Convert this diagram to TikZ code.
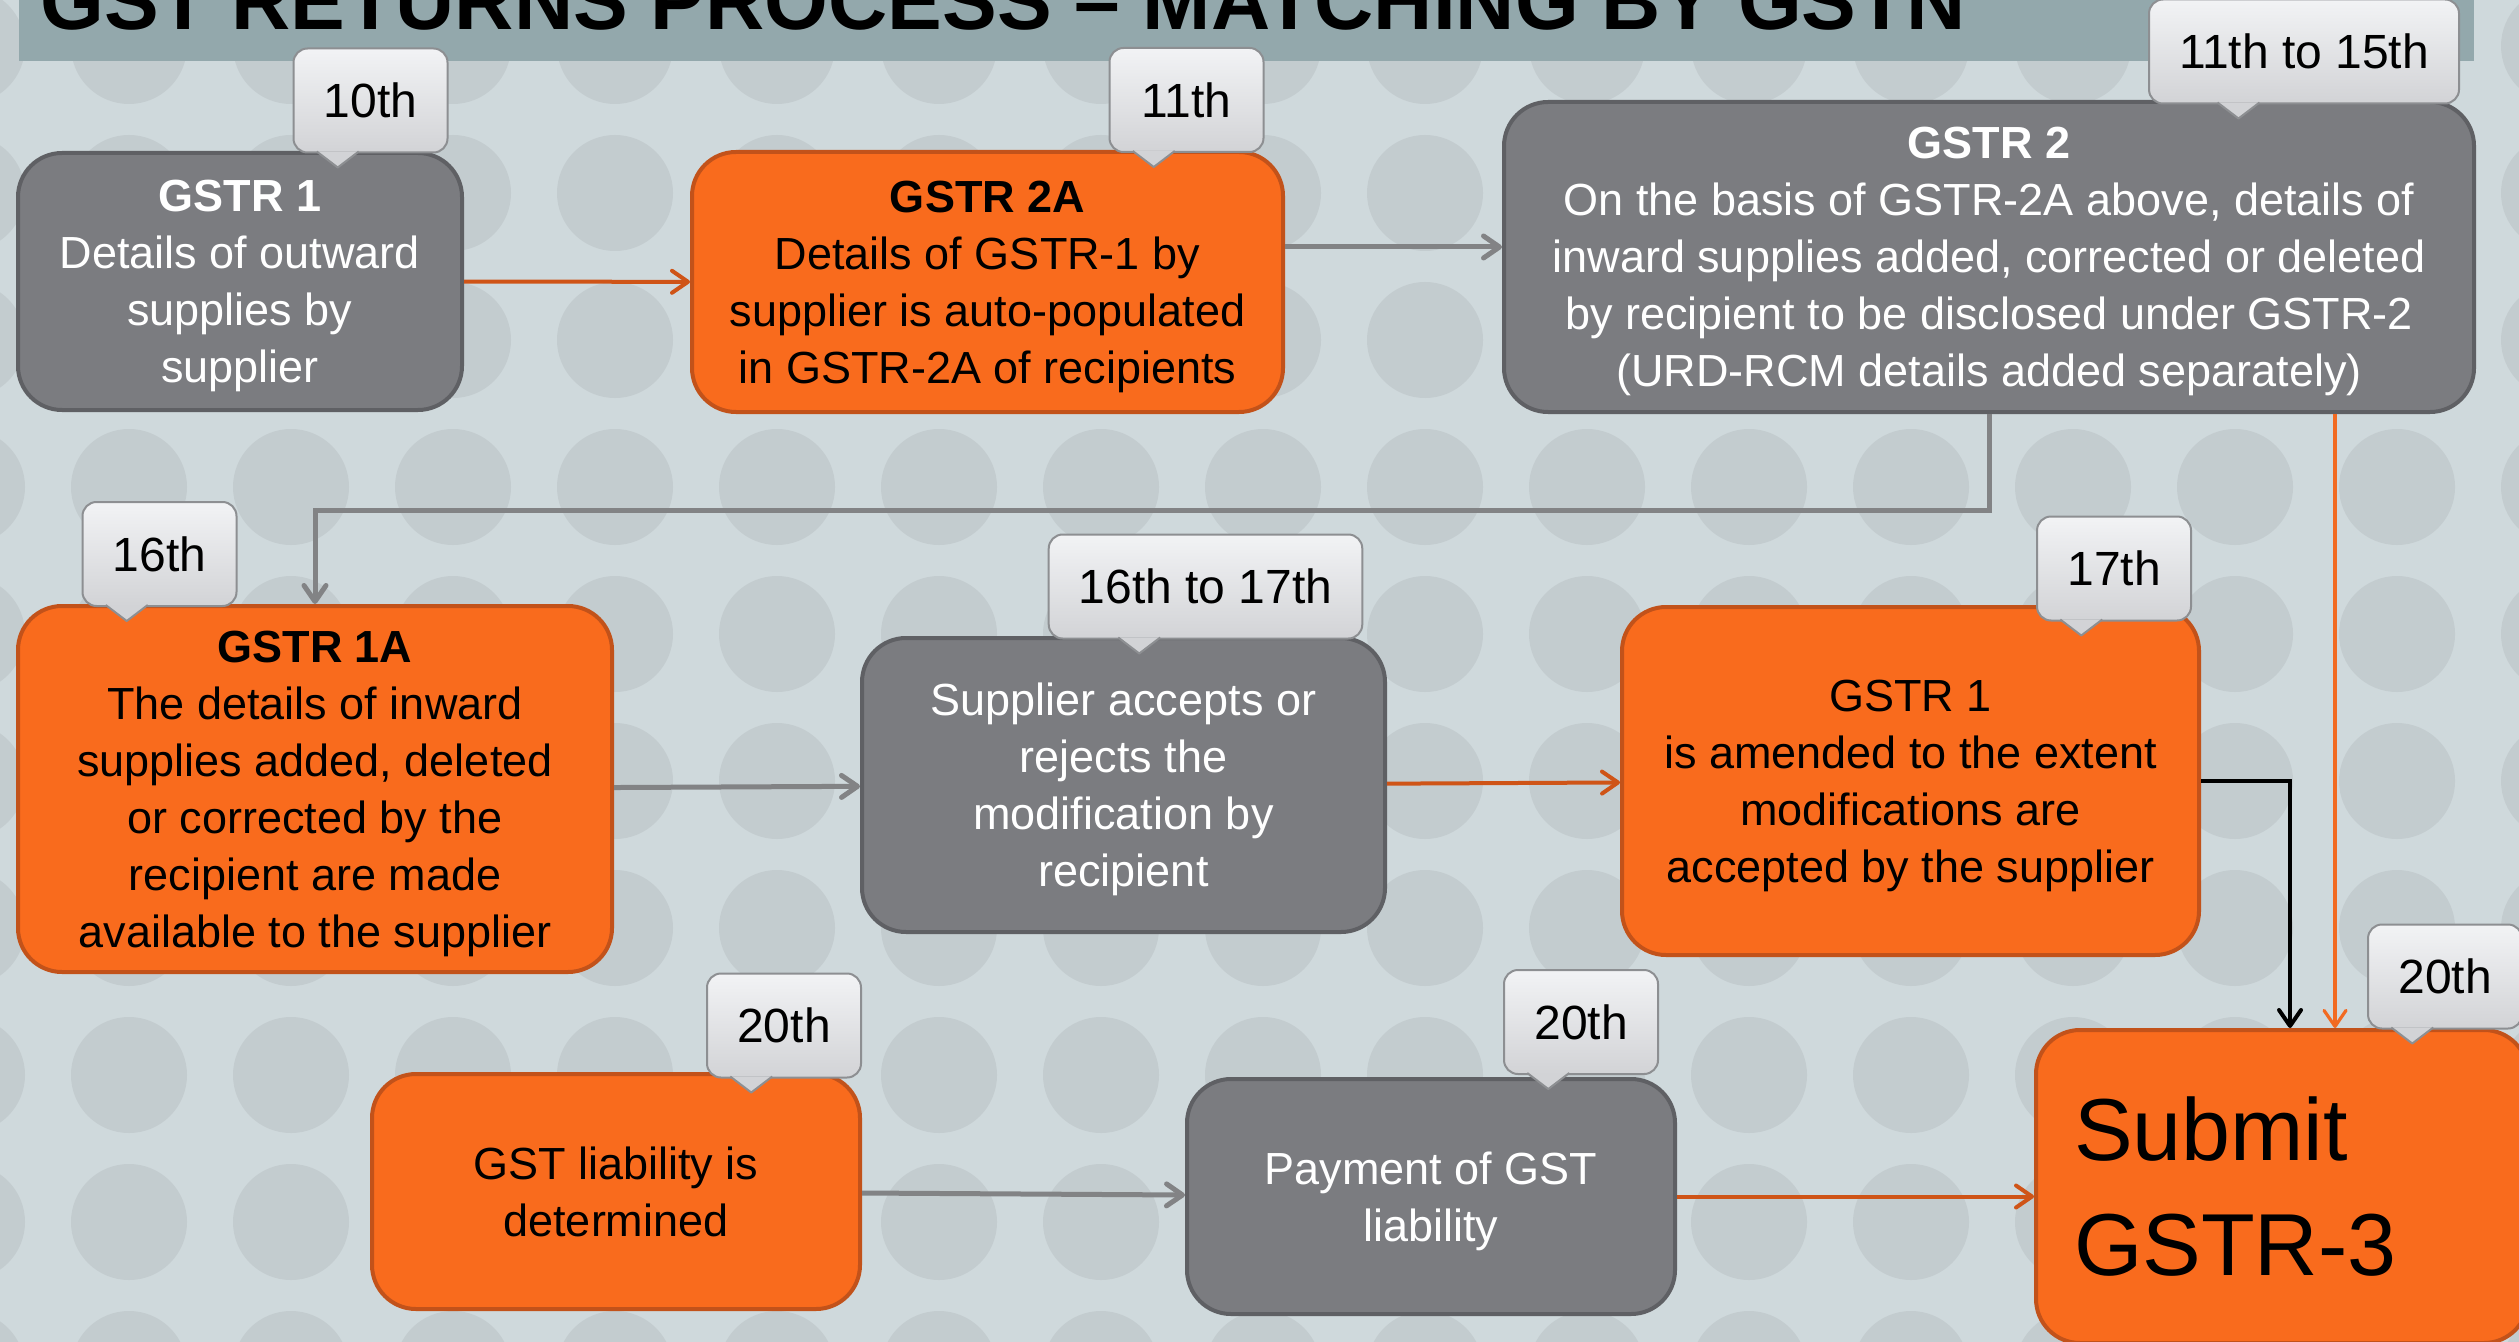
\documentclass[tikz,border=0pt]{standalone}
\usepackage{fontspec}
\setmainfont{Liberation Sans}
\usepackage{xcolor}
\usetikzlibrary{arrows.meta, calc}

\definecolor{bgpale}{HTML}{CFD9DC}
\definecolor{bgdot}{HTML}{C3CCCF}
\definecolor{barblue}{HTML}{93A8AC}
\definecolor{boxgrey}{HTML}{7B7C80}
\definecolor{boxgreyline}{HTML}{5F6064}
\definecolor{boxorange}{HTML}{F96B1D}
\definecolor{boxorangeline}{HTML}{C2521A}
\definecolor{linkgrey}{HTML}{828385}
\definecolor{linkorange}{HTML}{CF5417}
\definecolor{linkbright}{HTML}{F26A21}
\definecolor{tagtop}{HTML}{F2F3F5}
\definecolor{tagbot}{HTML}{D2D3D6}
\definecolor{tagedge}{HTML}{8D8F92}

\begin{document}
\begin{tikzpicture}[
    x=0.5pt, y=-0.5pt,
    stepbox/.style={draw, line width=2pt, rounded corners=22pt, align=center,
      text depth=0pt, font=\fontsize{22.5}{28.5}\selectfont},
    greybox/.style={stepbox, fill=boxgrey, draw=boxgreyline, text=white},
    orangebox/.style={stepbox, fill=boxorange, draw=boxorangeline, text=black},
    datetag/.style={draw=tagedge, line width=1pt, rounded corners=7pt,
      top color=tagtop, bottom color=tagbot, text=black,
      font=\fontsize{24}{28}\selectfont, inner xsep=15pt,
      minimum width=77pt, minimum height=52pt},
    flow/.style={line width=2.5pt, -{Straight Barb[length=8pt,width=11pt,round]}},
  ]
  \useasboundingbox (0,0) rectangle (2519,1342);
  \clip (0,0) rectangle (2519,1342);

  % dotted backdrop and heading strip
  \fill[bgpale] (0,0) rectangle (2519,1342);
  \foreach \i in {0,...,16}
    \foreach \j in {0,...,9}
      \fill[bgdot] (-33+162*\i, 46+147*\j) circle[radius=29pt];
  \fill[barblue] (19,-5) rectangle (2474,61);
  \node[anchor=base west, inner sep=0pt, font=\fontsize{41}{48}\bfseries] (title)
    at (40,30) {GST RETURNS PROCESS \textendash{} MATCHING BY GSTN};

  % returns
  \node[greybox, minimum width=222pt, minimum height=128.5pt] (g1) at (240,281.5)
    {\textbf{GSTR 1}\\Details of outward\\supplies by\\supplier};
  \node[orangebox, minimum width=295.5pt, minimum height=130pt] (g2a) at (987.5,282)
    {\textbf{GSTR 2A}\\Details of GSTR-1 by\\supplier is auto-populated\\in GSTR-2A of recipients};
  \node[greybox, minimum width=485pt, minimum height=155pt] (g2) at (1989,257)
    {\textbf{GSTR 2}\\On the basis of GSTR-2A above, details of\\inward supplies added, corrected or deleted\\by recipient to be disclosed under GSTR-2\\(URD-RCM details added separately)};
  \node[orangebox, minimum width=297pt, minimum height=183pt] (g1a) at (315,789)
    {\textbf{GSTR 1A}\\The details of inward\\supplies added, deleted\\or corrected by the\\recipient are made\\available to the supplier};
  \node[greybox, minimum width=261.5pt, minimum height=147pt] (acc) at (1123.5,785)
    {Supplier accepts or\\rejects the\\modification by\\recipient};
  \node[orangebox, minimum width=288.5pt, minimum height=174pt] (amend) at (1910.5,781)
    {GSTR 1\\is amended to the extent\\modifications are\\accepted by the supplier};
  \node[orangebox, minimum width=244pt, minimum height=117.5pt] (liab) at (616,1191.5)
    {GST liability is\\determined};
  \node[greybox, minimum width=244pt, minimum height=117.5pt] (pay) at (1431,1196.5)
    {Payment of GST\\liability};
  \node[orangebox, minimum width=246pt, minimum height=156.5pt, align=left,
    text width=208pt, text depth={}, font=\fontsize{44}{57.5}\selectfont] (sub)
    at (2282,1186.5) {Submit\\GSTR-3};

  % links
  \draw[flow, linkorange, line width=2pt] (g1) -- (g2a);
  \draw[flow, linkgrey] (g2a.east |- 0,247) -- (g2.west |- 0,247);
  \draw[flow, linkgrey] (g2.south) -- ++(0,96) -| (g1a.north);
  \draw[flow, linkbright, line width=1.6pt] (g2.south -| 2335,0) -- (sub.north -| 2335,0);
  \draw[flow, linkgrey] (g1a) -- (acc);
  \draw[flow, linkorange, line width=2pt] (acc) -- (amend);
  \draw[flow, black, line width=2pt] (amend.east) -| (sub.north -| 2290,0);
  \draw[flow, linkgrey] (liab) -- (pay);
  \draw[flow, linkorange, line width=2pt] (pay.east) -- (sub.west |- pay.east);

  % due dates
  \node[datetag] (d1) at (370.5,100.5) {10th};
  \node[datetag] (d2) at (1186.5,100) {11th};
  \node[datetag] (d3) at (2304,51.5) {11th to 15th};
  \node[datetag] (d4) at (159.5,554) {16th};
  \node[datetag] (d5) at (1205.5,586.5) {16th to 17th};
  \node[datetag] (d6) at (2114,568.5) {17th};
  \node[datetag] (d7) at (784,1025.5) {20th};
  \node[datetag] (d8) at (1581,1022) {20th};
  \node[datetag] (d9) at (2445,976.5) {20th};
  \foreach \tg in {d1,d2,d3,d4,d5,d6,d7,d8,d9}{
    \coordinate (tip) at ($(\tg.south west)!0.29!(\tg.south east)$);
    \draw[draw=tagedge, line width=1pt, fill=tagbot, line join=round]
      ($(tip)+(-21,-2)$) -- ($(tip)+(0,14)$) -- ($(tip)+(21,-2)$);
  }
\end{tikzpicture}
\end{document}
